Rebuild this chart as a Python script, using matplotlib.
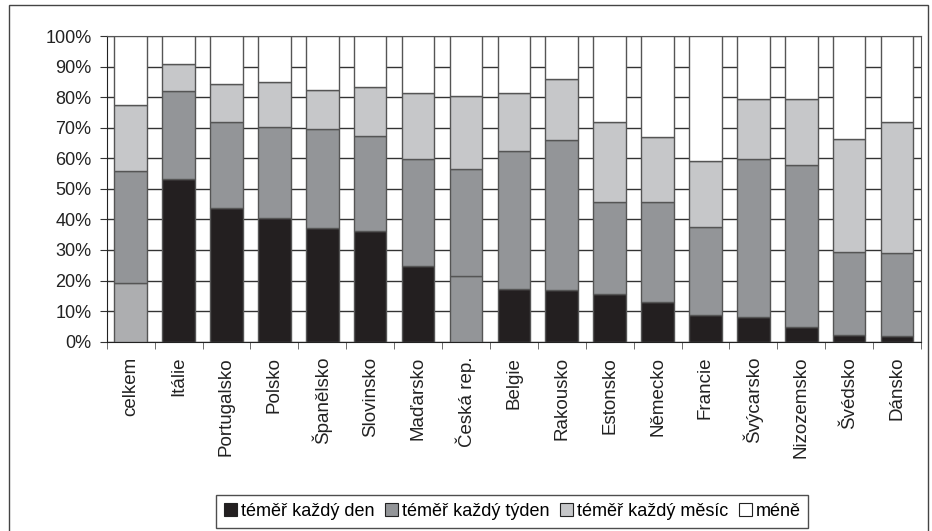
import numpy as np
import matplotlib.pyplot as plt
from matplotlib.patches import Rectangle, Patch

plt.rcParams['font.family'] = ['Liberation Sans', 'DejaVu Sans']

categories = ['celkem', 'Itálie', 'Portugalsko', 'Polsko', 'Španělsko', 'Slovinsko',
              'Maďarsko', 'Česká rep.', 'Belgie', 'Rakousko', 'Estonsko', 'Německo',
              'Francie', 'Švýcarsko', 'Nizozemsko', 'Švédsko', 'Dánsko']
den = [19.3, 53.2, 43.8, 40.5, 37.2, 36.2, 24.9, 21.4, 17.3, 16.9, 15.6, 13.0, 8.7, 8.1, 4.8, 2.2, 1.9]
tyden = [36.5, 28.8, 28.0, 29.6, 32.5, 31.0, 35.0, 35.0, 45.2, 49.2, 30.2, 32.8, 28.9, 51.8, 53.1, 27.2, 27.2]
mesic = [21.5, 9.0, 12.6, 15.0, 12.7, 16.2, 21.6, 24.0, 19.0, 19.7, 26.0, 21.3, 21.4, 19.4, 21.4, 36.8, 42.7]
mene = [22.7, 9.0, 15.6, 14.9, 17.6, 16.6, 18.5, 19.6, 18.5, 14.2, 28.2, 32.9, 41.0, 20.7, 20.7, 33.8, 28.2]
series_names = ['téměř každý den', 'téměř každý týden', 'téměř každý měsíc', 'méně']

c_den = '#231f20'
c_tyden = '#939598'
c_mesic = '#c6c7c9'
c_mene = '#ffffff'
# v originale je spodni dil u "celkem" a "Česká rep." jinak obarveny
den_colors = [c_den] * len(categories)
den_colors[0] = '#adaeb0'
den_colors[7] = c_tyden

fig = plt.figure(figsize=(9.32, 5.31), dpi=100)
ax = fig.add_axes([0.1145, 0.3565, 0.8737, 0.5757])

x = np.arange(len(categories))
w = 0.68
edge = dict(edgecolor='#555555', linewidth=1.0, zorder=3)
ax.bar(x, den, w, color=den_colors, **edge)
bottom = np.array(den)
ax.bar(x, tyden, w, bottom=bottom, color=c_tyden, **edge)
bottom = bottom + tyden
ax.bar(x, mesic, w, bottom=bottom, color=c_mesic, **edge)
bottom = bottom + mesic
ax.bar(x, mene, w, bottom=bottom, color=c_mene, **edge)

ax.set_xlim(-0.5, len(categories) - 0.5)
ax.set_ylim(0, 100)
ax.set_yticks(np.arange(0, 101, 10))
ax.set_yticklabels([f'{v}%' for v in range(0, 101, 10)], fontsize=13, color='#222222')
ax.yaxis.grid(True, color='#333333', linewidth=1.0, zorder=0)
ax.set_axisbelow(True)

ax.set_xticks(x)
ax.set_xticklabels(categories, rotation=90, fontsize=13.5, color='#222222')
ax.set_xticks(np.arange(-0.5, len(categories)), minor=True)
ax.tick_params(axis='x', which='major', length=0, pad=11)
ax.tick_params(axis='x', which='minor', length=5, color='#555555', direction='out')
ax.tick_params(axis='y', length=5, color='#333333', direction='out', pad=6)

for side in ['left', 'bottom']:
    ax.spines[side].set_color('#222222')
for side in ['top', 'right']:
    ax.spines[side].set_color('#555555')

# ramecek kolem celeho grafu
fig.patches.append(Rectangle((9 / 932, -0.05), 919 / 932, 1.05 - 5 / 531, transform=fig.transFigure,
                             fill=False, edgecolor='#444444', linewidth=1.0))

handles = [Patch(facecolor=c, edgecolor='#222222', linewidth=0.8)
           for c in [c_den, c_tyden, c_mesic, c_mene]]
leg = fig.legend(handles, series_names, loc='upper left', bbox_to_anchor=(216 / 932, 1 - 495 / 531),
                 ncol=4, fontsize=13, frameon=True, fancybox=False, edgecolor='#222222',
                 handlelength=0.72, handleheight=0.72, handletextpad=0.2, columnspacing=0.6,
                 borderpad=0.45, borderaxespad=0)
leg.get_frame().set_linewidth(1.0)

fig.savefig('out.png', dpi=100)
